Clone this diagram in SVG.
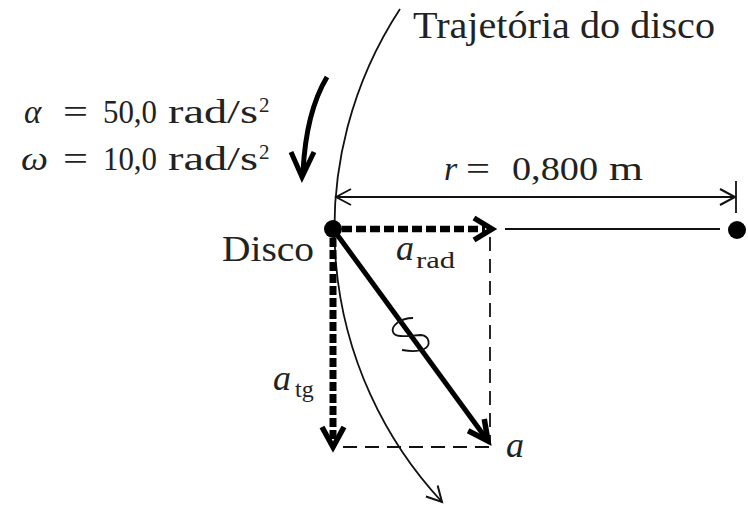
<svg xmlns="http://www.w3.org/2000/svg" width="748" height="507" viewBox="0 0 748 507" font-family="'Liberation Serif', 'Times New Roman', Times, serif">
<style>
text{font-family:'Liberation Serif','Times New Roman',Times,serif;fill:#222;}
.i{font-style:italic;}
.thin{stroke:#111;fill:none;stroke-width:1.8;}
.dash{stroke:#111;fill:none;stroke-width:1.8;stroke-dasharray:14 8;}
.thick{stroke:#000;fill:none;stroke-linecap:butt;}
</style>
<defs>
<marker id="chevThin" markerUnits="userSpaceOnUse" viewBox="-20 -12 24 24" markerWidth="24" markerHeight="24" refX="0" refY="0" orient="auto" overflow="visible">
<path d="M-15,-8 L0,0 L-15,8" fill="none" stroke="#111" stroke-width="2"/>
</marker>
<marker id="chevThick" markerUnits="userSpaceOnUse" viewBox="-24 -14 28 28" markerWidth="28" markerHeight="28" refX="0" refY="0" orient="auto" overflow="visible">
<path d="M-20,-10 L0,0 L-20,10" fill="none" stroke="#000" stroke-width="5.5" stroke-linejoin="miter"/>
</marker>
</defs>

<g id="connectors">
<path id="trajetoria" class="thin" d="M 400,9 A 401 401 0 0 0 442,502" marker-end="url(#chevThin)"/>
<line class="thin" x1="336" y1="197" x2="735" y2="197" marker-end="url(#chevThin)"/>
<path class="thin" d="M351,189 L336,197 L351,205" stroke-width="2"/>
<line class="thin" x1="736" y1="181" x2="736" y2="213" stroke-width="2"/>
<line class="thin" x1="505" y1="229" x2="720" y2="229" stroke-width="2"/>
<line class="dash" x1="490" y1="237" x2="490" y2="444"/>
<line class="dash" x1="343" y1="447" x2="490" y2="447"/>
<line class="thick" x1="342" y1="229" x2="485" y2="229" stroke-width="6.5" stroke-dasharray="10 4"/>
<path class="thick" d="M474,218 L492,229 L474,240" stroke-width="5.5"/>
<line class="thick" x1="333" y1="238" x2="333" y2="440" stroke-width="7" stroke-dasharray="9 3"/>
<path class="thick" d="M322,427 L333,447 L344,427" stroke-width="5.5"/>
<line class="thick" x1="333" y1="229" x2="488" y2="441" stroke-width="5" marker-end="url(#chevThick)"/>
<path class="thick" d="M 327,77 Q 306,112 303,172" stroke-width="5" stroke-linecap="round"/>
<path class="thick" d="M291,152 L302,177 L314,152" stroke-width="5" stroke-linejoin="miter"/>
<path class="thin" d="M 413,318 C 400,318 391,326 393,332 C 395,339 412,335 421,335 C 430,336 431,346 424,349 C 418,352 408,351 402,350" stroke-width="2"/>
</g>

<g id="disco">
<circle cx="333" cy="229" r="9" fill="#000"/>
<text x="222" y="261" font-size="35" textLength="92" lengthAdjust="spacingAndGlyphs">Disco</text>
</g>
<g id="centro">
<circle cx="737" cy="230" r="9" fill="#000"/>
</g>

<g id="label-trajetoria">
<text x="413" y="38" font-size="38" textLength="302" lengthAdjust="spacingAndGlyphs">Trajetória do disco</text>
</g>

<g id="label-r">
<text y="180" font-size="34"><tspan class="i" x="444">r</tspan><tspan x="466" textLength="24" lengthAdjust="spacingAndGlyphs">=</tspan><tspan x="512" textLength="86" lengthAdjust="spacingAndGlyphs">0,800</tspan><tspan x="609" textLength="34" lengthAdjust="spacingAndGlyphs">m</tspan></text>
</g>

<g id="label-alpha">
<text y="123" font-size="33"><tspan class="i" x="24">α</tspan><tspan x="63" textLength="25" lengthAdjust="spacingAndGlyphs">=</tspan><tspan x="103" textLength="54" lengthAdjust="spacingAndGlyphs">50,0</tspan><tspan x="168" textLength="90" lengthAdjust="spacingAndGlyphs">rad/s</tspan><tspan x="259" y="112" font-size="21">2</tspan></text>
</g>
<g id="label-omega">
<text y="170" font-size="33"><tspan class="i" x="21" textLength="27" lengthAdjust="spacingAndGlyphs">ω</tspan><tspan x="63" textLength="25" lengthAdjust="spacingAndGlyphs">=</tspan><tspan x="103" textLength="54" lengthAdjust="spacingAndGlyphs">10,0</tspan><tspan x="168" textLength="90" lengthAdjust="spacingAndGlyphs">rad/s</tspan><tspan x="259" y="159" font-size="21">2</tspan></text>
</g>

<g id="label-arad">
<text y="260" font-size="36"><tspan class="i" x="396">a</tspan><tspan x="416" y="268" font-size="24" textLength="39" lengthAdjust="spacingAndGlyphs">rad</tspan></text>
</g>
<g id="label-atg">
<text y="390" font-size="36"><tspan class="i" x="273">a</tspan><tspan x="295" y="397" font-size="24">tg</tspan></text>
</g>
<g id="label-a">
<text class="i" x="506" y="457" font-size="36">a</text>
</g>
</svg>
